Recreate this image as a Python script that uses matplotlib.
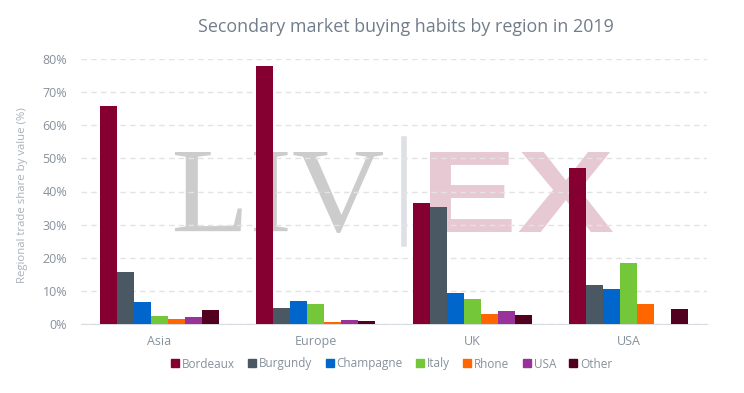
import matplotlib
matplotlib.use("Agg")
import matplotlib.pyplot as plt
import numpy as np
from matplotlib.textpath import TextPath
from matplotlib.patches import PathPatch
from matplotlib.font_manager import FontProperties
from matplotlib.transforms import Affine2D
from matplotlib.ticker import FuncFormatter, MultipleLocator

regions = ["Asia", "Europe", "UK", "USA"]
series = ["Bordeaux", "Burgundy", "Champagne", "Italy", "Rhone", "USA", "Other"]
bordeaux = [65.7, 78.0, 36.4, 47.0]
burgundy = [15.7, 4.8, 35.2, 11.7]
champagne = [6.6, 6.9, 9.3, 10.5]
italy = [2.4, 6.0, 7.5, 18.4]
rhone = [1.5, 0.6, 3.0, 6.0]
usa = [2.1, 1.2, 3.9, 0.0]
other = [4.2, 0.9, 2.7, 4.6]
values = [bordeaux, burgundy, champagne, italy, rhone, usa, other]
colors = ["#850031", "#4a5864", "#0066cc", "#74c739", "#ff6600", "#993399", "#52001f"]

W, H = 744, 393
fig = plt.figure(figsize=(W / 100, H / 100), dpi=100)
ax = fig.add_axes([81 / W, 1 - 324 / H, (707 - 81) / W, (324 - 59) / H])
ax.set_zorder(2)

# watermark
def place_text(s, box, fontprops, color, z=0):
    tp = TextPath((0, 0), s, size=100, prop=fontprops)
    ext = tp.get_extents()
    x0, y0, x1, y1 = box
    sx = (x1 - x0) / W / ext.width
    sy = (y1 - y0) / H / ext.height
    tr = Affine2D().translate(-ext.x0, -ext.y0).scale(sx, sy).translate(x0 / W, 1 - y1 / H)
    patch = PathPatch(tr.transform_path(tp), facecolor=color, edgecolor="none",
                      transform=fig.transFigure, zorder=z)
    fig.add_artist(patch)

place_text("LIV", (175, 152, 383, 233), FontProperties(family="Liberation Serif"), "#cccccc")
place_text("EX", (430, 152, 613, 232), FontProperties(family="Liberation Sans", weight="bold"), "#e6c9d3")
fig.add_artist(plt.Line2D([404 / W, 404 / W], [1 - 244 / H, 1 - 139 / H], color="#dde1e5",
                          lw=4, transform=fig.transFigure, zorder=0))

ax.patch.set_alpha(0)
n = len(series)
x = np.arange(len(regions))
bw = 0.76 / n
for i, (name, vals, c) in enumerate(zip(series, values, colors)):
    ax.bar(x - 0.38 + bw * (i + 0.5), vals, width=bw, color=c, label=name, zorder=3)

ax.set_xlim(-0.5, len(regions) - 0.5)
ax.set_ylim(0, 80)
ax.yaxis.set_major_locator(MultipleLocator(10))
ax.yaxis.set_major_formatter(FuncFormatter(lambda v, p: f"{int(v)}%"))
ax.set_xticks(x)
ax.set_xticklabels(regions)
ax.grid(axis="y", color="#e3e3e3", linestyle=(0, (4, 3)), lw=1, zorder=1)
ax.set_axisbelow(True)
for s in ["top", "right", "left"]:
    ax.spines[s].set_visible(False)
ax.spines["bottom"].set_color("#d8dce0")
ax.tick_params(axis="both", length=0, labelsize=9, labelcolor="#86919c")
ax.tick_params(axis="x", pad=8)
ax.tick_params(axis="y", pad=10)
for lab in ax.get_xticklabels() + ax.get_yticklabels():
    lab.set_family("Open Sans")

fig.text(23 / W, 1 - 195 / H, "Regional trade share by value (%)", rotation=90,
         ha="center", va="center", fontsize=8.2, color="#a7b1bb", family="Open Sans")
fig.text(406 / W, 1 - 27 / H, "Secondary market buying habits by region in 2019",
         ha="center", va="center", fontsize=12.9, color="#707d8a", family="Open Sans")

handles = [plt.Line2D([], [], marker="s", ls="none", color=c, markersize=6) for c in colors]
leg = fig.legend(handles, series, loc="center", bbox_to_anchor=(392 / W, 1 - 364 / H), ncol=7,
                 frameon=False, handlelength=0.6, handletextpad=0.3, columnspacing=1.15,
                 prop={"family": "Open Sans", "size": 8.5})
for t in leg.get_texts():
    t.set_color("#86919c")

fig.savefig("out.png", dpi=100)
